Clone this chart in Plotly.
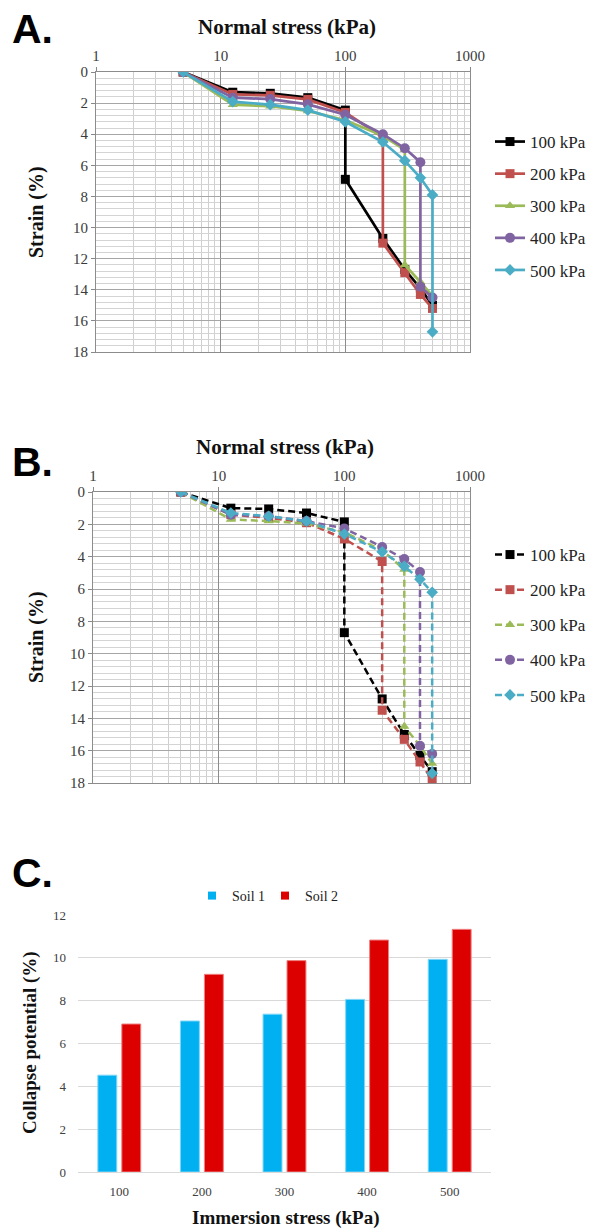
import plotly.graph_objects as go

# ---------------- Data ----------------
SERIES_NAMES = ["100 kPa", "200 kPa", "300 kPa", "400 kPa", "500 kPa"]

# Panel A (solid lines)
A_X_100 = [5, 12.5, 25, 50, 100, 100, 200, 300, 400, 500]
A_Y_100 = [0, 1.3, 1.37, 1.65, 2.45, 6.9, 10.7, 12.7, 13.9, 15.0]
A_X_200 = [5, 12.5, 25, 50, 100, 200, 200, 300, 400, 500]
A_Y_200 = [0, 1.44, 1.5, 1.76, 2.6, 4.2, 11.0, 12.9, 14.3, 15.2]
A_X_300 = [5, 12.5, 25, 50, 100, 200, 300, 300, 400, 500]
A_Y_300 = [0, 2.1, 2.2, 2.5, 3.1, 4.1, 5.0, 12.4, 13.5, 14.4]
A_X_400 = [5, 12.5, 25, 50, 100, 200, 300, 400, 400, 500]
A_Y_400 = [0, 1.65, 1.74, 2.08, 2.75, 4.0, 4.9, 5.8, 13.8, 14.5]
A_X_500 = [5, 12.5, 25, 50, 100, 200, 300, 400, 500, 500]
A_Y_500 = [0, 1.9, 2.1, 2.45, 3.2, 4.5, 5.7, 6.8, 7.9, 16.7]

# Panel B (dashed lines)
B_X_100 = [5, 12.5, 25, 50, 100, 100, 200, 300, 400, 500]
B_Y_100 = [0, 1.0, 1.05, 1.3, 1.85, 8.7, 12.8, 15.0, 16.3, 17.3]
B_X_200 = [5, 12.5, 25, 50, 100, 200, 200, 300, 400, 500]
B_Y_200 = [0, 1.4, 1.6, 1.9, 2.9, 4.3, 13.5, 15.3, 16.7, 17.8]
B_X_300 = [5, 12.5, 25, 50, 100, 200, 300, 300, 400, 500]
B_Y_300 = [0, 1.7, 1.8, 1.95, 2.5, 3.6, 4.8, 14.5, 15.7, 16.8]
B_X_400 = [5, 12.5, 25, 50, 100, 200, 300, 400, 400, 500]
B_Y_400 = [0, 1.4, 1.5, 1.8, 2.25, 3.4, 4.15, 4.95, 15.7, 16.2]
B_X_500 = [5, 12.5, 25, 50, 100, 200, 300, 400, 500, 500]
B_Y_500 = [0, 1.3, 1.5, 1.8, 2.6, 3.7, 4.6, 5.4, 6.2, 17.4]

# Panel C (bars)
C_CATEGORIES = ["100", "200", "300", "400", "500"]
C_SERIES = ["Soil 1", "Soil 2"]
C_SOIL1 = [4.52, 7.05, 7.37, 8.06, 9.93]
C_SOIL2 = [6.91, 9.23, 9.87, 10.83, 11.33]

X_TICKS = [1, 10, 100, 1000]
Y_TICKS = [0, 2, 4, 6, 8, 10, 12, 14, 16, 18]
C_Y_TICKS = [0, 2, 4, 6, 8, 10, 12]

# ---------------- Styles ----------------
COLORS = ["#000000", "#C0504D", "#9BBB59", "#8064A2", "#4BACC6"]
SYMBOLS = ["square", "square", "triangle-up", "circle", "diamond"]
BAR_COLORS = ["#00B0F0", "#DC0000"]
BAR_EDGES = ["#7FD6F7", "#F08080"]
SERIF = "Liberation Serif"
SANS = "Liberation Sans"
W, H = 595, 1230


def dom_x(a, b):
    return [a / W, b / W]


def dom_y(top, bottom):
    return [1 - bottom / H, 1 - top / H]


fig = go.Figure()

A_DATA = [(A_X_100, A_Y_100), (A_X_200, A_Y_200), (A_X_300, A_Y_300),
          (A_X_400, A_Y_400), (A_X_500, A_Y_500)]
B_DATA = [(B_X_100, B_Y_100), (B_X_200, B_Y_200), (B_X_300, B_Y_300),
          (B_X_400, B_Y_400), (B_X_500, B_Y_500)]

for i, (xs, ys) in enumerate(A_DATA):
    fig.add_trace(go.Scatter(
        x=xs, y=ys, mode="lines+markers", name=SERIES_NAMES[i],
        line=dict(color=COLORS[i], width=2.7),
        marker=dict(symbol=SYMBOLS[i], size=9 if SYMBOLS[i] != "circle" else 10,
                    color=COLORS[i]),
        xaxis="x", yaxis="y", legend="legend", legendgroup="a%d" % i))

for i, (xs, ys) in enumerate(B_DATA):
    fig.add_trace(go.Scatter(
        x=xs, y=ys, mode="lines+markers", name=SERIES_NAMES[i],
        line=dict(color=COLORS[i], width=2.5, dash="7px,4px"),
        marker=dict(symbol=SYMBOLS[i], size=9 if SYMBOLS[i] != "circle" else 10,
                    color=COLORS[i]),
        xaxis="x2", yaxis="y2", legend="legend2", legendgroup="b%d" % i))

for j, vals in enumerate([C_SOIL1, C_SOIL2]):
    fig.add_trace(go.Bar(x=C_CATEGORIES, y=vals, name=C_SERIES[j], showlegend=False,
                         marker=dict(color=BAR_COLORS[j], line=dict(color=BAR_EDGES[j], width=1)),
                         xaxis="x3", yaxis="y3"))
    # small square legend key, as in the original
    fig.add_trace(go.Scatter(x=[None], y=[None], mode="markers", name=C_SERIES[j],
                             marker=dict(symbol="square", size=8, color=BAR_COLORS[j]),
                             xaxis="x3", yaxis="y3", legend="legend3"))

tick_font = dict(family=SERIF, size=15, color="#3a3a3a")


def log_axis(domain, anchor):
    return dict(
        type="log", range=[0, 3], domain=domain, anchor=anchor, side="top",
        tickvals=X_TICKS, ticktext=[str(v) for v in X_TICKS],
        tickfont=tick_font, ticks="outside", ticklen=4, tickcolor="#888",
        showgrid=True, gridcolor="#8c8c8c", gridwidth=1,
        minor=dict(dtick="D1", showgrid=True, gridcolor="#cfcfcf", gridwidth=1, ticks=""),
        showline=True, linecolor="#8c8c8c", linewidth=1, mirror=True,
        zeroline=False, fixedrange=True, automargin=False)


def strain_axis(domain, anchor):
    return dict(
        range=[18, 0], domain=domain, anchor=anchor,
        tickvals=Y_TICKS, ticktext=[str(v) for v in Y_TICKS],
        tickfont=tick_font, ticks="outside", ticklen=4, tickcolor="#888",
        showgrid=True, gridcolor="#a6a6a6", gridwidth=1,
        minor=dict(dtick=0.4, showgrid=True, gridcolor="#d4d4d4", gridwidth=1, ticks=""),
        showline=True, linecolor="#8c8c8c", linewidth=1, mirror=True,
        zeroline=False, fixedrange=True, automargin=False)


def side_legend(ytop, gap):
    return dict(
        x=490 / W, y=1 - ytop / H, xanchor="left", yanchor="top",
        font=dict(family=SERIF, size=17, color="#222"),
        bgcolor="rgba(0,0,0,0)", tracegroupgap=gap, itemwidth=30)


fig.update_layout(
    width=W, height=H,
    margin=dict(l=0, r=0, t=0, b=0, autoexpand=False),
    paper_bgcolor="white", plot_bgcolor="white",
    showlegend=True,
    xaxis=log_axis(dom_x(96, 470), "y"),
    yaxis=strain_axis(dom_y(72, 352), "x"),
    xaxis2=log_axis(dom_x(93, 470), "y2"),
    yaxis2=strain_axis(dom_y(492, 783), "x2"),
    xaxis3=dict(domain=dom_x(78, 491), anchor="y3",
                tickfont=dict(family=SERIF, size=13, color="#404040"),
                showline=True, linecolor="#d9d9d9", ticks="", ticklabelstandoff=7,
                fixedrange=True, automargin=False),
    yaxis3=dict(domain=dom_y(915, 1172), anchor="x3", range=[0, 12],
                tickvals=C_Y_TICKS, ticktext=[str(v) for v in C_Y_TICKS],
                tickfont=dict(family=SERIF, size=13, color="#404040"),
                showgrid=True, gridcolor="#d9d9d9", zeroline=False, showline=False,
                ticks="", ticklabelstandoff=11, fixedrange=True, automargin=False),
    barmode="group", bargap=0.42, bargroupgap=0.21,
    legend=side_legend(124, 7),
    legend2=side_legend(537, 10),
    legend3=dict(x=192 / W, y=1 - 880 / H, xanchor="left", yanchor="top", orientation="h",
                 font=dict(family=SERIF, size=14, color="#222"), bgcolor="rgba(0,0,0,0)",
                 itemwidth=30, entrywidth=28),
)

ann = []
letter_font = dict(family=SANS, size=41, color="#000")
# Panel letters
for txt, yy in [("A.", 29), ("B.", 462), ("C.", 873)]:
    ann.append(dict(text="<b>%s</b>" % txt, x=10 / W, y=1 - yy / H, xref="paper", yref="paper",
                    xanchor="left", yanchor="middle", showarrow=False, font=letter_font))


def title(text, x, y, size, angle=0):
    return dict(text="<b>%s</b>" % text, x=x / W, y=1 - y / H, xref="paper", yref="paper",
                xanchor="center", yanchor="middle", showarrow=False, textangle=angle,
                font=dict(family=SERIF, size=size, color="#111"))


ann.append(title("Normal stress (kPa)", 287, 27, 21))
ann.append(title("Normal stress (kPa)", 285, 447, 21))
ann.append(title("Strain (%)", 36, 212, 20, -90))
ann.append(title("Strain (%)", 36, 637, 20, -90))
ann.append(title("Collapse potential (%)", 30, 1043, 19, -90))
ann.append(title("Immersion stress (kPa)", 286, 1218, 19))
fig.update_layout(annotations=ann)

fig.write_html("out.html", config={"displayModeBar": False},
               post_script="document.body.style.margin='0';document.body.style.padding='0';")
